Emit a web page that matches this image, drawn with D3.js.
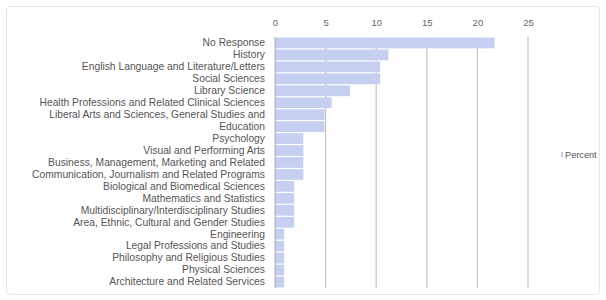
<!DOCTYPE html>
<html>
<head>
<meta charset="utf-8">
<script src="https://cdn.jsdelivr.net/npm/d3@7.9.0/dist/d3.min.js"></script>
<style>
  body { margin: 0; background: #fff; }
  svg { display: block; font-family: "Liberation Sans", Arial, sans-serif; }
</style>
</head>
<body>
<svg id="chart" width="606" height="300"></svg>
<script>
// Chart data
const categories = [
    'No Response',
    'History',
    'English Language and Literature/Letters',
    'Social Sciences',
    'Library Science',
    'Health Professions and Related Clinical Sciences',
    'Liberal Arts and Sciences, General Studies and',
    'Education',
    'Psychology',
    'Visual and Performing Arts',
    'Business, Management, Marketing and Related',
    'Communication, Journalism and Related Programs',
    'Biological and Biomedical Sciences',
    'Mathematics and Statistics',
    'Multidisciplinary/Interdisciplinary Studies',
    'Area, Ethnic, Cultural and Gender Studies',
    'Engineering',
    'Legal Professions and Studies',
    'Philosophy and Religious Studies',
    'Physical Sciences',
    'Architecture and Related Services'
];
const percent = [21.7, 11.2, 10.4, 10.4, 7.4, 5.6, 4.9, 4.9, 2.8, 2.8, 2.8, 2.8,
                 1.9, 1.9, 1.9, 1.9, 0.9, 0.9, 0.9, 0.9, 0.9];
const xTicks = [0, 5, 10, 15, 20, 25];
const seriesName = 'Percent';

const data = categories.map((c, i) => ({ label: c, value: percent[i] }));

const svg = d3.select('#chart');

// light frame round the chart
svg.append('rect')
    .attr('x', 6.5).attr('y', 6.5)
    .attr('width', 593).attr('height', 288)
    .attr('rx', 4)
    .attr('fill', '#fff')
    .attr('stroke', '#e4e4e4');

const margin = { top: 37, left: 275, bottom: 288 };
const x = d3.scaleLinear().domain([0, 25]).range([margin.left, 528]);
const y = d3.scaleBand()
    .domain(categories)
    .range([margin.top, margin.bottom])
    .paddingInner(0.1)
    .paddingOuter(0.05);

// gridlines
svg.append('g')
    .selectAll('line')
    .data(xTicks.slice(1))
    .join('line')
    .attr('x1', d => x(d)).attr('x2', d => x(d))
    .attr('y1', margin.top).attr('y2', margin.bottom)
    .attr('stroke', '#c4c4c4')
    .attr('stroke-width', 1.2);

// bars
svg.append('g')
    .selectAll('rect')
    .data(data)
    .join('rect')
    .attr('x', x(0))
    .attr('y', d => y(d.label))
    .attr('width', d => x(d.value) - x(0))
    .attr('height', y.bandwidth())
    .attr('fill', '#c6cff2');

// top axis
const xAxis = svg.append('g')
    .attr('transform', `translate(0, ${margin.top - 2})`)
    .call(d3.axisTop(x).tickValues(xTicks).tickSize(0).tickPadding(9));
xAxis.select('.domain').remove();
xAxis.selectAll('text')
    .attr('fill', '#666')
    .attr('font-size', 9.5);

// left axis line
svg.append('line')
    .attr('x1', x(0)).attr('x2', x(0))
    .attr('y1', margin.top).attr('y2', margin.bottom)
    .attr('stroke', '#a8a8a8');

// category labels
const yAxis = svg.append('g')
    .attr('transform', `translate(${x(0) - 10}, 0)`)
    .call(d3.axisLeft(y).tickSize(0).tickPadding(0));
yAxis.select('.domain').remove();
yAxis.selectAll('text')
    .attr('fill', '#555')
    .attr('font-size', 10.3);

// legend
const legend = svg.append('g').attr('transform', 'translate(561, 155)');
legend.append('rect')
    .attr('x', 0).attr('y', -3)
    .attr('width', 2).attr('height', 5)
    .attr('fill', '#c6cff2');
legend.append('text')
    .attr('x', 4).attr('y', 0)
    .attr('dy', '0.32em')
    .attr('fill', '#555')
    .attr('font-size', 9.2)
    .text(seriesName);
</script>
</body>
</html>
